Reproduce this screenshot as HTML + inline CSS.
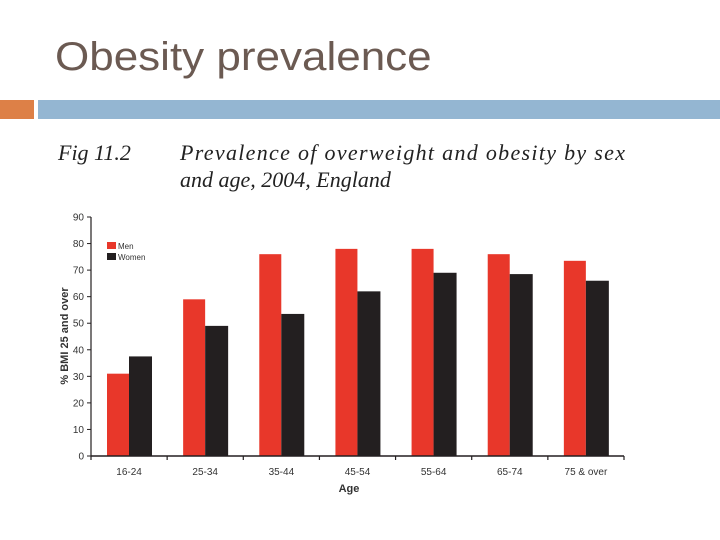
<!DOCTYPE html>
<html><head><meta charset="utf-8"><style>
body{margin:0;width:720px;height:540px;background:#fff;position:relative;overflow:hidden;font-family:"Liberation Sans",sans-serif}
</style></head><body>
<div style="position:absolute;left:55px;top:33px;font-size:40px;color:#6b5a52;line-height:48px;transform:scaleX(1.1);transform-origin:0 0;white-space:nowrap">Obesity prevalence</div>
<div style="position:absolute;left:0;top:100px;width:34px;height:19px;background:#dd8047"></div>
<div style="position:absolute;left:38px;top:100px;width:682px;height:19px;background:#94b6d2"></div>
<svg width="720" height="540" style="position:absolute;left:0;top:0">
<g font-family="Liberation Serif,serif" font-style="italic" font-size="22" fill="#222">
<text x="58" y="160">Fig 11.2</text>
<text x="180" y="160" textLength="445">Prevalence of overweight and obesity by sex</text>
<text x="180" y="187">and age, 2004, England</text>
</g>
<g id="plot"></g>
</svg>
<script>
const categories=["16-24","25-34","35-44","45-54","55-64","65-74","75 & over"];
const men=[31,59,76,78,78,76,73.5];
const women=[37.5,49,53.5,62,69,68.5,66];
const yTicks=[0,10,20,30,40,50,60,70,80,90];
const x0=91,x1=624,y0=456,yTop=217,yMax=90;
const gw=(x1-x0)/categories.length;
const yS=v=>y0-(v/yMax)*(y0-yTop);
const g=document.getElementById('plot');
const NS="http://www.w3.org/2000/svg";
function mk(t,a,txt){const e=document.createElementNS(NS,t);for(const k in a)e.setAttribute(k,a[k]);if(txt!==undefined)e.textContent=txt;g.appendChild(e);return e;}
categories.forEach((c,i)=>{
 const gx=x0+i*gw;
 let b=mk('rect',{x:gx+16,y:yS(men[i]),width:22,height:y0-yS(men[i]),fill:'#e8372a'});
 
 
 b=mk('rect',{x:gx+38,y:yS(women[i]),width:23,height:y0-yS(women[i]),fill:'#231f20'});
 
 
 let t=mk('text',{x:gx+gw/2,y:475,'text-anchor':'middle','font-size':10,fill:'#333'},c);
 
 
});
for(let i=0;i<=categories.length;i++){mk('line',{x1:x0+i*gw,x2:x0+i*gw,y1:y0,y2:y0+4,stroke:'#231f20','stroke-width':1.2});}
let ax=mk('line',{x1:x0,x2:x1,y1:y0,y2:y0,stroke:'#231f20','stroke-width':1.5});


ax=mk('line',{x1:x0,x2:x0,y1:yTop,y2:y0,stroke:'#231f20','stroke-width':1.2});


yTicks.forEach(v=>{
 mk('line',{x1:x0-4,x2:x0,y1:yS(v),y2:yS(v),stroke:'#231f20'});
 const t=mk('text',{x:x0-7,y:yS(v)+3.5,'text-anchor':'end','font-size':10,fill:'#333'},v);
 
 
});
let t=mk('text',{x:349,y:492,'text-anchor':'middle','font-size':11,'font-weight':'bold',fill:'#333'},'Age');


t=mk('text',{transform:'translate(68,336) rotate(-90)','text-anchor':'middle','font-size':11,'font-weight':'bold',fill:'#333'},'% BMI 25 and over');


let l=mk('rect',{x:107,y:242,width:9,height:7,fill:'#e8372a'});


l=mk('text',{x:118,y:249,'font-size':8,fill:'#333'},'Men');


l=mk('rect',{x:107,y:253,width:9,height:7,fill:'#231f20'});


l=mk('text',{x:118,y:260,'font-size':8,fill:'#333'},'Women');


</script>
</body></html>
